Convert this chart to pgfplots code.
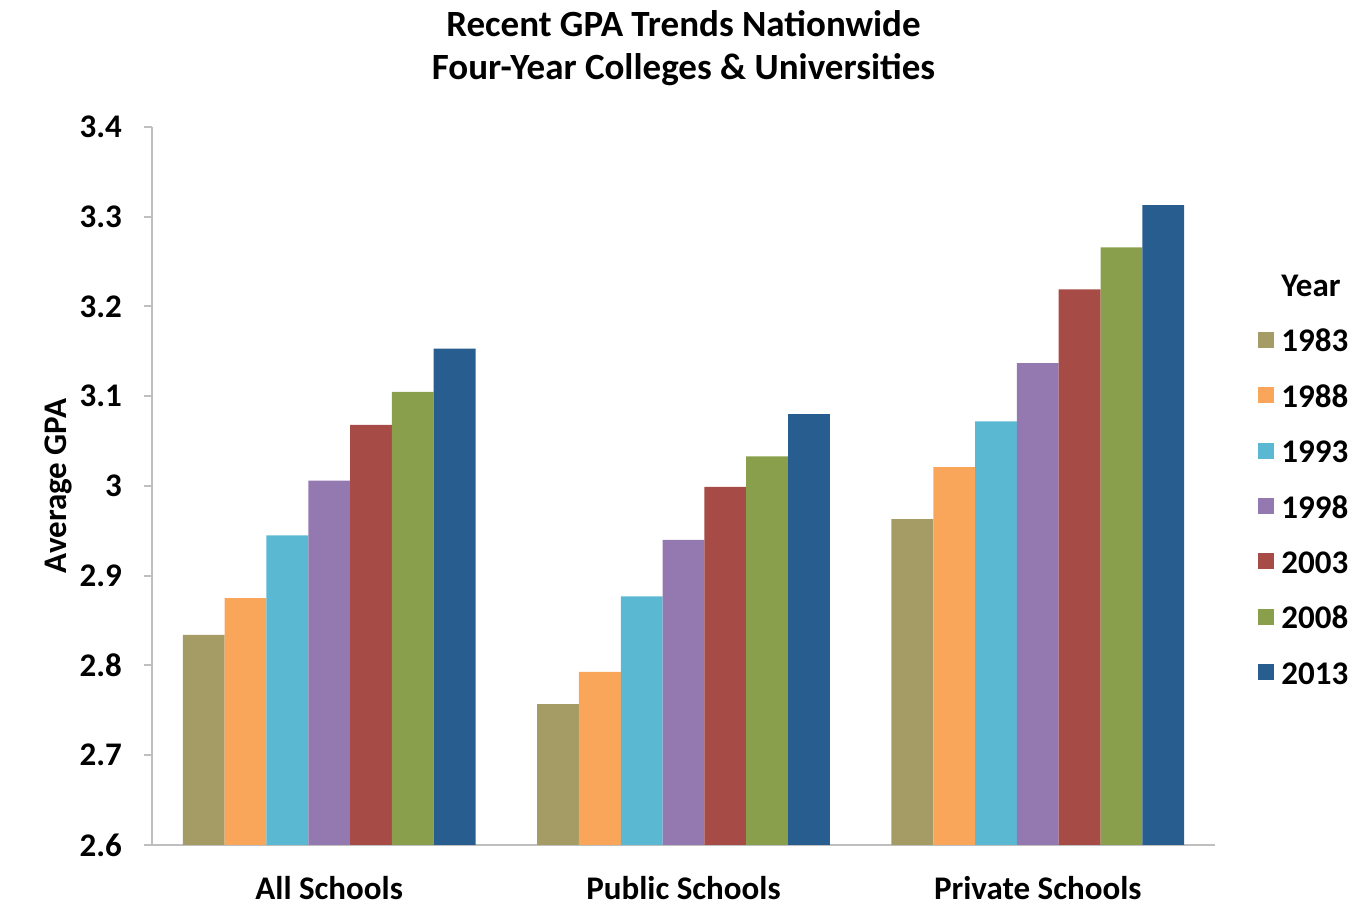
\documentclass[border=0pt]{standalone}
\usepackage{fontspec}
\setmainfont{Carlito}
\usepackage{pgfplots}
\pgfplotsset{compat=1.18}

\definecolor{c1983}{HTML}{A59B65}
\definecolor{c1988}{HTML}{F9A65A}
\definecolor{c1993}{HTML}{5BB8D3}
\definecolor{c1998}{HTML}{9479B0}
\definecolor{c2003}{HTML}{A64B45}
\definecolor{c2008}{HTML}{8A9F4C}
\definecolor{c2013}{HTML}{275D8F}
\definecolor{axgray}{HTML}{BFBFBF}

\newcommand{\lbl}{\fontsize{16.5pt}{21.5pt}\selectfont\bfseries}
\newcommand{\ttl}{\fontsize{18.5pt}{21.5pt}\selectfont\bfseries}

\begin{document}
\begin{tikzpicture}
\useasboundingbox (-76pt,-34.5pt) rectangle (598.5pt,422.5pt);
\begin{axis}[
    at={(0,0)}, anchor=south west,
    scale only axis,
    width=531.5pt, height=359pt,
    ybar=0pt,
    bar width=0.118,
    xmin=-0.5, xmax=2.5,
    ymin=2.6, ymax=3.4,
    xtick={0,1,2},
    xticklabels={All Schools, Public Schools, Private Schools},
    ytick={2.6,2.7,2.8,2.9,3,3.1,3.2,3.3,3.4},
    yticklabels={2.6,2.7,2.8,2.9,3,3.1,3.2,3.3,3.4},
    axis x line*=bottom, axis y line*=left,
    axis line style={axgray, line width=1pt},
    x axis line style={-}, y axis line style={-},
    xtick style={draw=none},
    ytick style={axgray, line width=1pt},
    tick align=outside,
    major tick length=4pt,
    tick label style={font=\lbl},
    xticklabel style={yshift=-8pt},
    yticklabel style={xshift=-7.5pt},
    /pgf/number format/assume math mode=true,
    ylabel={Average GPA},
    ylabel style={font=\lbl, at={(axis description cs:-0.0884,0.5)}, anchor=center},
    title={Recent GPA Trends Nationwide\\Four-Year Colleges \& Universities},
    title style={font=\ttl, align=center, at={(axis description cs:0.5,1.1149)}, anchor=center, yshift=-8pt},
    legend style={
        draw=none, font=\lbl,
        at={(axis description cs:1.0405,0.51)}, anchor=west,
        inner sep=0pt,
        nodes={inner sep=0pt, text height=11.5pt, text depth=0pt},
        row sep=16.2pt,
        /tikz/every odd column/.append style={column sep=3.5pt},
    },
    legend cell align=left,
    legend image code/.code={\fill[#1] (0pt,-3.7pt) rectangle (8pt,4.3pt);},
]
\addlegendimage{empty legend}
\addlegendentry{Year}
\addplot[fill=c1983, draw=none] coordinates {(0,2.834) (1,2.757) (2,2.963)};
\addlegendentry{1983}
\addplot[fill=c1988, draw=none] coordinates {(0,2.875) (1,2.793) (2,3.021)};
\addlegendentry{1988}
\addplot[fill=c1993, draw=none] coordinates {(0,2.945) (1,2.877) (2,3.072)};
\addlegendentry{1993}
\addplot[fill=c1998, draw=none] coordinates {(0,3.006) (1,2.940) (2,3.137)};
\addlegendentry{1998}
\addplot[fill=c2003, draw=none] coordinates {(0,3.068) (1,2.999) (2,3.219)};
\addlegendentry{2003}
\addplot[fill=c2008, draw=none] coordinates {(0,3.105) (1,3.033) (2,3.266)};
\addlegendentry{2008}
\addplot[fill=c2013, draw=none] coordinates {(0,3.153) (1,3.080) (2,3.313)};
\addlegendentry{2013}
\end{axis}
\end{tikzpicture}
\end{document}
